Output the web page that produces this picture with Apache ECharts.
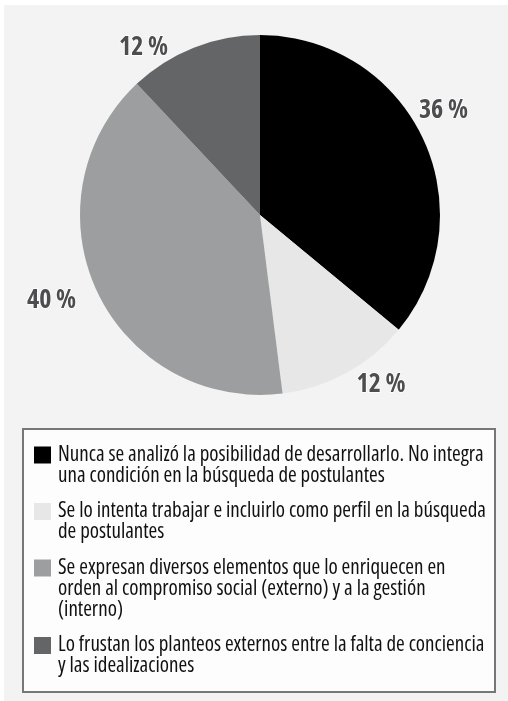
<!DOCTYPE html>
<html>
<head>
<meta charset="utf-8">
<script src="https://cdn.jsdelivr.net/npm/echarts@6/dist/echarts.min.js"></script>
<style>
  html, body { margin: 0; padding: 0; background: #ffffff; }
  #chart { width: 508px; height: 701px; }
</style>
</head>
<body>
<div id="chart"></div>
<script>
  // categorías (texto de la leyenda, con los cortes de línea del original)
  var categories = [
    'Nunca se analizó la posibilidad de desarrollarlo. No integra\nuna condición en la búsqueda de postulantes',
    'Se lo intenta trabajar e incluirlo como perfil en la búsqueda\nde postulantes',
    'Se expresan diversos elementos que lo enriquecen en\norden al compromiso social (externo) y a la gestión\n(interno)',
    'Lo frustan los planteos externos entre la falta de conciencia\ny las idealizaciones'
  ];
  var values = [36, 12, 40, 12];
  var colors = ['#000000', '#e7e7e7', '#9d9ea0', '#646567'];

  // fuente condensada: "condensed" va en fontStyle para que entre en el shorthand de canvas
  var FONT = '"Open Sans", "Roboto", sans-serif';
  var STRETCH = 'condensed';

  var chart = echarts.init(document.getElementById('chart'));

  var rich = {
    t: { fontFamily: FONT, fontStyle: STRETCH, fontSize: 21, lineHeight: 21, color: '#111111', padding: [0, 0, 0, 7] },
    t2: { fontFamily: FONT, fontStyle: STRETCH, fontSize: 21, lineHeight: 21, color: '#111111', padding: [0, 0, 0, 24] }
  };
  colors.forEach(function (c, i) {
    rich['b' + i] = { width: 17, height: 17, backgroundColor: c, verticalAlign: 'middle' };
  });

  // pequeños ajustes de posición de las etiquetas de porcentaje
  var labelNudge = { 0: [-18, -24], 1: [0, 3], 2: [-7, 5], 3: [-17, 9] };

  chart.setOption({
    backgroundColor: '#ffffff',
    animation: false,
    graphic: [
      { type: 'rect', z: -10, shape: { x: 4, y: 5, width: 504, height: 696 }, style: { fill: '#f2f3f2' }, silent: true },
      { type: 'rect', z: -9, shape: { x: 23, y: 429, width: 472, height: 263 }, style: { fill: '#fdfdfd', stroke: '#777777', lineWidth: 2 }, silent: true }
    ],
    legend: {
      orient: 'vertical',
      left: 29,
      top: 444.5,
      padding: 0,
      icon: 'none',
      itemWidth: 0,
      itemHeight: 17,
      itemGap: 14.5,
      selectedMode: false,
      data: categories,
      formatter: function (name) {
        var i = categories.indexOf(name);
        var lines = name.split('\n');
        return lines.map(function (l, k) {
          return k === 0 ? '{b' + i + '|}{t|' + l + '}' : '{t2|' + l + '}';
        }).join('\n');
      },
      textStyle: { rich: rich }
    },
    series: [
      {
        type: 'pie',
        center: [260, 215],
        radius: 180,
        startAngle: 90,
        clockwise: true,
        avoidLabelOverlap: false,
        data: categories.map(function (c, i) {
          return { name: c, value: values[i], itemStyle: { color: colors[i] } };
        }),
        label: {
          show: true,
          position: 'outside',
          formatter: function (p) { return p.value + ' %'; },
          fontFamily: FONT,
          fontStyle: STRETCH,
          fontWeight: 'bold',
          fontSize: 26,
          color: '#4d4d4f',
          textBorderColor: '#ffffff',
          textBorderWidth: 1.5
        },
        labelLine: { show: false, length: 10, length2: 0 },
        labelLayout: function (p) {
          var n = labelNudge[p.dataIndex];
          return n ? { dx: n[0], dy: n[1] } : {};
        },
        emphasis: { disabled: true }
      }
    ]
  });
</script>
</body>
</html>
